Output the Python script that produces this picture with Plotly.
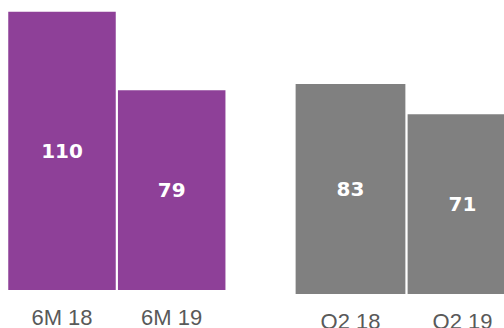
import plotly.graph_objects as go

# Half-year comparison (left panel)
half_year_labels = ["6M 18", "6M 19"]
half_year_values = [110, 79]

# Quarter comparison (right panel)
quarter_labels = ["Q2 18", "Q2 19"]
quarter_values = [83, 71]

PURPLE = "#8E4098"
GREY = "#808080"
LABEL_GREY = "#595959"

W, H = 504, 328
PX_PER_UNIT = 2.53  # shared vertical scale for both panels

value_font = dict(color="white", size=20, family="DejaVu Sans")

fig = go.Figure()

fig.add_trace(go.Bar(
    x=half_year_labels, y=half_year_values,
    marker=dict(color=PURPLE, line=dict(width=0)),
    width=0.98,
    text=half_year_values,
    texttemplate="<b>%{text}</b>",
    textposition="inside", insidetextanchor="middle",
    textangle=0, constraintext="none",
    textfont=value_font,
    xaxis="x", yaxis="y", showlegend=False, hoverinfo="skip",
))

fig.add_trace(go.Bar(
    x=quarter_labels, y=quarter_values,
    marker=dict(color=GREY, line=dict(width=0)),
    width=0.98,
    text=quarter_values,
    texttemplate="<b>%{text}</b>",
    textposition="inside", insidetextanchor="middle",
    textangle=0, constraintext="none",
    textfont=value_font,
    xaxis="x2", yaxis="y2", showlegend=False, hoverinfo="skip",
))

left_base = 38   # px from bottom of page to left baseline
right_base = 34  # px from bottom of page to right baseline

tick_font = dict(color=LABEL_GREY, size=22, family="Liberation Sans, Arial, sans-serif")

common_x = dict(showgrid=False, zeroline=False, showline=False, ticks="",
                tickfont=tick_font, fixedrange=True, type="category",
                automargin=False)
common_y = dict(showgrid=False, zeroline=False, showline=False, ticks="",
                showticklabels=False, fixedrange=True, automargin=False)

fig.update_layout(
    width=W, height=H,
    margin=dict(l=0, r=0, t=0, b=0),
    paper_bgcolor="white", plot_bgcolor="white",
    bargap=0.02,
    xaxis=dict(domain=[7.15 / W, 226.55 / W], range=[-0.5, 1.5],
               anchor="y", ticklabelstandoff=12, **common_x),
    yaxis=dict(domain=[left_base / H, 1], range=[0, (H - left_base) / PX_PER_UNIT],
               anchor="x", **common_y),
    xaxis2=dict(domain=[294.5 / W, 1], range=[-0.5, -0.5 + (W - 294.5) / 112],
                anchor="y2", ticklabelstandoff=12, **common_x),
    yaxis2=dict(domain=[right_base / H, 1], range=[0, (H - right_base) / PX_PER_UNIT],
                anchor="x2", **common_y),
)

fig.write_html("out.html")
